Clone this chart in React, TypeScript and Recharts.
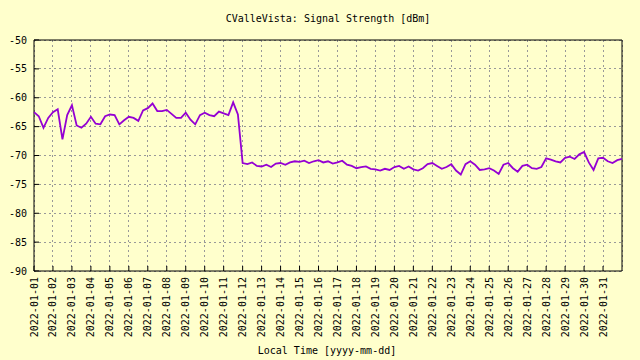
import React from 'react';
import { LineChart, Line, XAxis, YAxis, CartesianGrid, ReferenceArea } from 'recharts';

const chartTitle = 'CValleVista: Signal Strength [dBm]';
const xAxisTitle = 'Local Time [yyyy-mm-dd]';
const monthPrefix = '2022-01-';
const samplesPerDay = 4;
const dayCount = 31;

const yTicks = [-90, -85, -80, -75, -70, -65, -60, -55, -50];
const dayTicks = Array.from({ length: dayCount }, (_, i) => i);
const dayLabels = dayTicks.map((d) => monthPrefix + String(d + 1).padStart(2, '0'));

// 6-hourly readings, Jan 1 00:00 .. Feb 1 00:00
const signalBeforeDrop = [
  -62.5, -63.2, -65.2, -63.5,
  -62.5, -62.0, -67.2, -63.0,
  -61.3, -64.8, -65.2, -64.5,
  -63.3, -64.5, -64.6, -63.2,
  -62.9, -63.0, -64.6, -63.9,
  -63.3, -63.5, -64.0, -62.2,
  -61.8, -61.0, -62.3, -62.3,
  -62.1, -62.8, -63.5, -63.5,
  -62.6, -63.8, -64.6, -63.0,
  -62.6, -63.0, -63.2, -62.4,
  -62.7, -63.0, -60.8, -62.9,
];
const signalAfterDrop = [
  -71.3, -71.5, -71.2, -71.8,
  -71.9, -71.6, -72.0, -71.4,
  -71.3, -71.6, -71.2, -71.0,
  -71.1, -70.9, -71.3, -71.0,
  -70.8, -71.2, -71.0, -71.4,
  -71.2, -70.9, -71.6, -71.8,
  -72.2, -72.0, -71.9, -72.3,
  -72.4, -72.6, -72.3, -72.5,
  -72.0, -71.8, -72.3, -71.9,
  -72.4, -72.6, -72.2, -71.5,
  -71.3, -71.8, -72.3, -72.0,
  -71.5, -72.6, -73.3, -71.5,
  -71.0, -71.6, -72.5, -72.4,
  -72.2, -72.6, -73.2, -71.6,
  -71.3, -72.2, -72.8, -71.8,
  -71.6, -72.2, -72.3, -72.0,
  -70.5, -70.7, -71.0, -71.2,
  -70.4, -70.2, -70.6, -69.8,
  -69.4, -71.2, -72.5, -70.5,
  -70.4, -71.0, -71.3, -70.8,
  -70.6,
];

const signal = [...signalBeforeDrop, ...signalAfterDrop];
const data = signal.map((v, i) => ({ t: i / samplesPerDay, v }));

const FONT = '"DejaVu Sans Mono", monospace';

const XTick = (props: any) => {
  const { x, y, payload } = props;
  return (
    <text
      x={x}
      y={y}
      transform={`rotate(-90 ${x} ${y})`}
      textAnchor="end"
      dy="0.35em"
      fontFamily={FONT}
      fontSize={10}
      fill="#000"
    >
      {dayLabels[payload.value]}
    </text>
  );
};

const YTick = (props: any) => {
  const { x, y, payload } = props;
  return (
    <text x={x} y={y} textAnchor="end" dy="0.35em" fontFamily={FONT} fontSize={10} fill="#000">
      {payload.value}
    </text>
  );
};

const Empty = () => <g />;

export default function App() {
  return (
    <div style={{ position: 'absolute', left: 0, top: 0, width: 640, height: 360, background: '#ffffcc' }}>
      <LineChart width={640} height={360} data={data} margin={{ top: 40, right: 18, bottom: 9, left: 0 }}>
        <CartesianGrid stroke="#999999" strokeDasharray="2 3" shapeRendering="crispEdges" />
        <XAxis
          dataKey="t"
          type="number"
          domain={[0, dayCount]}
          ticks={dayTicks}
          interval={0}
          height={80}
          axisLine={false}
          tickSize={-5}
          tickMargin={11}
          tickLine={{ stroke: '#000' }}
          tick={<XTick />}
        />
        <XAxis
          xAxisId="top"
          orientation="top"
          dataKey="t"
          type="number"
          domain={[0, dayCount]}
          ticks={dayTicks}
          interval={0}
          height={0}
          axisLine={false}
          tickSize={-5}
          tickLine={{ stroke: '#000' }}
          tick={<Empty />}
        />
        <YAxis
          type="number"
          domain={[-90, -50]}
          ticks={yTicks}
          interval={0}
          width={34}
          axisLine={false}
          tickSize={-5}
          tickMargin={12}
          tickLine={{ stroke: '#000' }}
          tick={<YTick />}
        />
        <YAxis
          yAxisId="right"
          orientation="right"
          type="number"
          domain={[-90, -50]}
          ticks={yTicks}
          interval={0}
          width={0}
          axisLine={false}
          tickSize={-5}
          tickLine={{ stroke: '#000' }}
          tick={<Empty />}
        />
        <Line
          type="linear"
          dataKey="v"
          stroke="#9400d3"
          strokeWidth={1.8}
          dot={false}
          isAnimationActive={false}
        />
        <ReferenceArea x1={0} x2={dayCount} y1={-90} y2={-50} fill="none" stroke="#000" strokeWidth={1} ifOverflow="visible" />
      </LineChart>
      <svg width={640} height={360} style={{ position: 'absolute', left: 0, top: 0, pointerEvents: 'none' }}>
        <text x={328} y={22} textAnchor="middle" fontFamily={FONT} fontSize={10} fill="#000">
          {chartTitle}
        </text>
        <text x={327} y={354} textAnchor="middle" fontFamily={FONT} fontSize={10} fill="#000">
          {xAxisTitle}
        </text>
      </svg>
    </div>
  );
}
